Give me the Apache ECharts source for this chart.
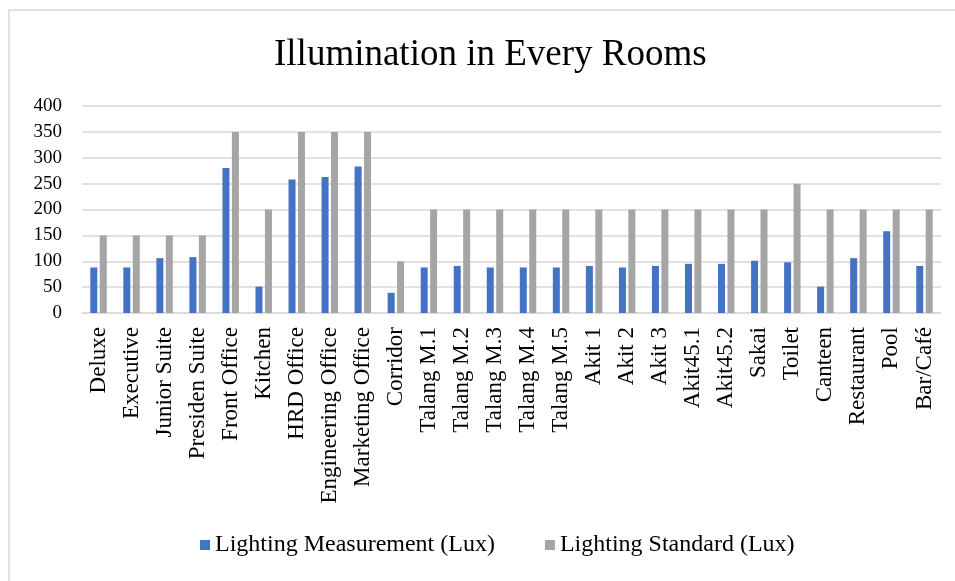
<!DOCTYPE html>
<html>
<head>
<meta charset="utf-8">
<script src="https://cdn.jsdelivr.net/npm/echarts@6/dist/echarts.min.js"></script>
<style>
  html, body { margin: 0; padding: 0; background: #fff; }
  #chart { width: 955px; height: 581px; }
</style>
</head>
<body>
<div id="chart"></div>
<script>
const rooms = [
  'Deluxe', 'Executive', 'Junior Suite', 'Presiden Suite', 'Front Office', 'Kitchen',
  'HRD Office', 'Engineering Office', 'Marketing Office', 'Corridor',
  'Talang M.1', 'Talang M.2', 'Talang M.3', 'Talang M.4', 'Talang M.5',
  'Akit 1', 'Akit 2', 'Akit 3', 'Akit45.1', 'Akit45.2', 'Sakai', 'Toilet',
  'Canteen', 'Restaurant', 'Pool', 'Bar/Café'
];
const measurement = [
  88, 88, 106, 108, 280, 51, 258, 263, 283, 39,
  88, 91, 88, 88, 88, 91, 88, 91, 95, 95, 101, 98,
  51, 106, 158, 91
];
const standard = [
  150, 150, 150, 150, 350, 200, 350, 350, 350, 100,
  200, 200, 200, 200, 200, 200, 200, 200, 200, 200, 200, 250,
  200, 200, 200, 200
];

const serif = '"Liberation Serif", "DejaVu Serif", serif';
const chart = echarts.init(document.getElementById('chart'));

chart.setOption({
  animation: false,
  title: {
    text: 'Illumination in Every Rooms',
    left: 269,
    top: 32,
    textStyle: { fontFamily: serif, fontSize: 37, fontWeight: 'normal', color: '#000' }
  },
  legend: {
    bottom: 19,
    left: 195,
    itemWidth: 10,
    itemHeight: 10,
    itemGap: 50,
    icon: 'rect',
    textStyle: { fontFamily: serif, fontSize: 24, color: '#000' },
    data: ['Lighting Measurement (Lux)', 'Lighting Standard (Lux)']
  },
  grid: { left: 82, right: 14, top: 106, bottom: 268 },
  xAxis: {
    type: 'category',
    data: rooms,
    axisLine: { lineStyle: { color: '#d9d9d9', width: 1.5 } },
    axisTick: { show: false },
    axisLabel: {
      rotate: 90,
      interval: 0,
      margin: 14,
      fontFamily: serif,
      fontSize: 23,
      color: '#000'
    }
  },
  yAxis: {
    type: 'value',
    min: 0,
    max: 400,
    interval: 50,
    axisLine: { show: false },
    axisTick: { show: false },
    axisLabel: { margin: 20, fontFamily: serif, fontSize: 19, color: '#000' },
    splitLine: { lineStyle: { color: '#d9d9d9', width: 1.5 } }
  },
  graphic: [{
    type: 'rect',
    shape: { x: 9, y: 10, width: 1000, height: 1000 },
    style: { fill: 'none', stroke: '#d9d9d9', lineWidth: 1.5 },
    silent: true
  }],
  series: [
    {
      name: 'Lighting Measurement (Lux)',
      type: 'bar',
      data: measurement,
      barWidth: 7,
      barGap: '35%',
      itemStyle: { color: '#4472C4' }
    },
    {
      name: 'Lighting Standard (Lux)',
      type: 'bar',
      data: standard,
      barWidth: 7,
      itemStyle: { color: '#A5A5A5' }
    }
  ]
});
</script>
</body>
</html>
